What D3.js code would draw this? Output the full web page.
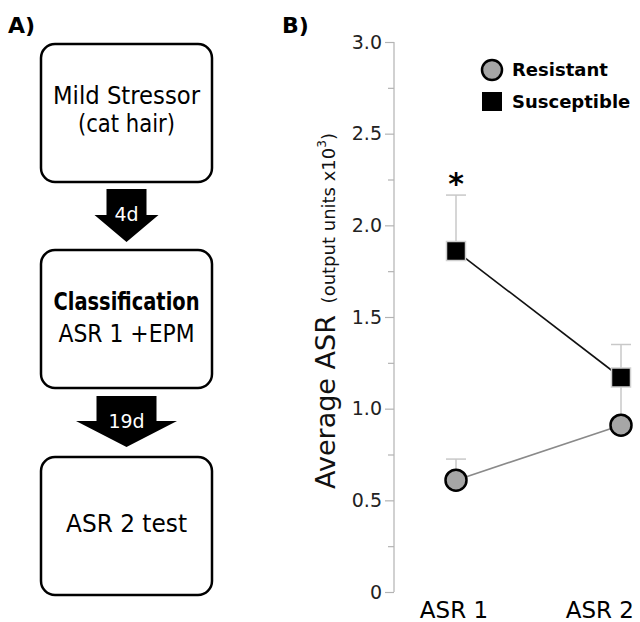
<!DOCTYPE html>
<html>
<head>
<meta charset="utf-8">
<script src="https://cdn.jsdelivr.net/npm/d3@7"></script>
<style>
  body { margin: 0; background: #fff; }
  svg { display: block; font-family: "DejaVu Sans", Verdana, sans-serif; }
</style>
</head>
<body>
<div id="chart"></div>
<script>
// panel A - flow steps
var steps = [
  {lines: ["Mild Stressor", "(cat hair)"], bold: [false, false], widths: [147, 97]},
  {lines: ["Classification", "ASR 1 +EPM"], bold: [true, false], widths: [146, 136]},
  {lines: ["ASR 2 test"], bold: [false], widths: [121]}
];
var gaps = ["4d", "19d"];

// panel B - data
var categories = ["ASR 1", "ASR 2"];
var resistant = [0.61, 0.91];
var resistantErr = [0.115, 0.22];
var susceptible = [1.86, 1.17];
var susceptibleErr = [0.305, 0.18];
var yTicks = [0, 0.5, 1.0, 1.5, 2.0, 2.5, 3.0];
var yMinorTicks = [0.25, 0.75, 1.25, 1.75, 2.25, 2.75];
var seriesNames = ["Resistant", "Susceptible"];

var W = 640, H = 622;
var svg = d3.select("#chart").append("svg")
    .attr("width", W)
    .attr("height", H);

// ****************** panel A ***************************
svg.append("text")
    .attr("x", 8).attr("y", 33)
    .style("font-weight", "bold").style("font-size", "22px")
    .text("A)");

var boxX = 41, boxW = 171, boxH = 138;
var boxTops = [44, 250, 457];
var baselines = [[104, 132], [310, 342], [532]];

steps.forEach(function(s, i) {
  svg.append("rect")
      .attr("x", boxX).attr("y", boxTops[i])
      .attr("width", boxW).attr("height", boxH)
      .attr("rx", 14).attr("ry", 14)
      .style("fill", "#fff").style("stroke", "#000").style("stroke-width", 2.5);
  s.lines.forEach(function(l, j) {
    svg.append("text")
        .attr("x", boxX + boxW / 2).attr("y", baselines[i][j])
        .attr("text-anchor", "middle")
        .attr("textLength", s.widths[j])
        .attr("lengthAdjust", "spacingAndGlyphs")
        .style("font-size", "24px")
        .style("font-weight", s.bold[j] ? "bold" : "normal")
        .text(l);
  });
});

// arrows between the boxes
var arrows = [
  {top: 189, shaft: 40, head: 64, neck: 215, tip: 242, base: 221},
  {top: 396, shaft: 60, head: 101, neck: 421, tip: 447, base: 428}
];
var cx = boxX + boxW / 2;
arrows.forEach(function(a, i) {
  var p = d3.path();
  p.moveTo(cx - a.shaft / 2, a.top);
  p.lineTo(cx + a.shaft / 2, a.top);
  p.lineTo(cx + a.shaft / 2, a.neck);
  p.lineTo(cx + a.head / 2, a.neck);
  p.lineTo(cx, a.tip);
  p.lineTo(cx - a.head / 2, a.neck);
  p.lineTo(cx - a.shaft / 2, a.neck);
  p.closePath();
  svg.append("path").attr("d", p.toString()).style("fill", "#000");
  svg.append("text")
      .attr("x", cx).attr("y", a.base)
      .attr("text-anchor", "middle")
      .style("fill", "#fff").style("font-size", "19px")
      .text(gaps[i]);
});

// ****************** panel B ***************************
svg.append("text")
    .attr("x", 282).attr("y", 33)
    .style("font-weight", "bold").style("font-size", "22px")
    .text("B)");

var axisX = 394;
var y = d3.scaleLinear().domain([0, 3]).range([592, 42]);
var x = d3.scalePoint().domain(categories).range([456, 621]);

var yAxis = svg.append("g")
    .attr("transform", "translate(" + axisX + ",0)")
    .call(d3.axisLeft(y).tickValues(yTicks).tickSize(9).tickPadding(3)
      .tickFormat(function(d) { return d === 0 ? "0" : d3.format(".1f")(d); }));
yAxis.select(".domain").attr("d", "M0," + y(0) + "V" + y(3));
yAxis.selectAll("path, line").style("stroke", "#b3b3b3").style("stroke-width", 1.2);
yAxis.selectAll("text")
    .style("font-size", "19px").style("fill", "#222")
    .style("font-family", "DejaVu Sans, sans-serif");

var minor = svg.append("g")
    .attr("transform", "translate(" + axisX + ",0)")
    .call(d3.axisLeft(y).tickValues(yMinorTicks).tickSize(6).tickFormat(""));
minor.select(".domain").remove();
minor.selectAll("line").style("stroke", "#b3b3b3").style("stroke-width", 1.2);

// y label
var yl = svg.append("text")
    .attr("transform", "translate(335,311) rotate(-90)")
    .attr("text-anchor", "middle")
    .style("fill", "#111");
yl.append("tspan").style("font-size", "27px").text("Average ASR");
yl.append("tspan").style("font-size", "18px").attr("dx", 6).text(" (output units x10");
yl.append("tspan").style("font-size", "12px").attr("dy", -9).text("3");
yl.append("tspan").style("font-size", "18px").attr("dy", 9).text(")");

// x labels (no axis line)
svg.selectAll("text.xlab")
    .data(categories)
  .enter().append("text")
    .attr("class", "xlab")
    .attr("y", 618)
    .attr("text-anchor", "middle")
    .style("font-size", "23px")
    .text(function(d) { return d; })
    .attr("x", function(d) {
      var w = this.getComputedTextLength();
      return Math.min(x(d), W - 4 - w / 2) - 2;
    });

// error bars (upper only)
function errBars(vals, errs) {
  var g = svg.append("g");
  vals.forEach(function(v, i) {
    var cxp = x(categories[i]);
    g.append("line")
        .attr("x1", cxp).attr("x2", cxp)
        .attr("y1", y(v)).attr("y2", y(v + errs[i]));
    g.append("line")
        .attr("x1", cxp - 10).attr("x2", cxp + 10)
        .attr("y1", y(v + errs[i])).attr("y2", y(v + errs[i]));
  });
  g.selectAll("line").style("stroke", "#c8c8c8").style("stroke-width", 1.5);
}
errBars(resistant, resistantErr);
errBars(susceptible, susceptibleErr);

var line = d3.line()
    .x(function(d, i) { return x(categories[i]); })
    .y(function(d) { return y(d); });

svg.append("path")
    .datum(resistant)
    .attr("d", line)
    .style("fill", "none").style("stroke", "#8a8a8a").style("stroke-width", 1.6);
svg.append("path")
    .datum(susceptible)
    .attr("d", line)
    .style("fill", "none").style("stroke", "#111").style("stroke-width", 1.6);

// markers
svg.selectAll("circle.res")
    .data(resistant)
  .enter().append("circle")
    .attr("class", "res")
    .attr("cx", function(d, i) { return x(categories[i]); })
    .attr("cy", function(d) { return y(d); })
    .attr("r", 10.5)
    .style("fill", "#a6a6a6").style("stroke", "#000").style("stroke-width", 2.5);

svg.selectAll("rect.sus")
    .data(susceptible)
  .enter().append("rect")
    .attr("class", "sus")
    .attr("x", function(d, i) { return x(categories[i]) - 9.5; })
    .attr("y", function(d) { return y(d) - 9.5; })
    .attr("width", 19).attr("height", 19)
    .style("fill", "#000").style("stroke", "#d0d0d0").style("stroke-width", 1.5);

// significance
svg.append("text")
    .attr("x", x(categories[0])).attr("y", 194)
    .attr("text-anchor", "middle")
    .style("font-size", "30px").style("font-weight", "bold")
    .text("*");

// legend
var leg = svg.append("g");
leg.append("circle")
    .attr("cx", 492).attr("cy", 70).attr("r", 10)
    .style("fill", "#a6a6a6").style("stroke", "#000").style("stroke-width", 2.5);
leg.append("rect")
    .attr("x", 482).attr("y", 92).attr("width", 20).attr("height", 19)
    .style("fill", "#000");
leg.selectAll("text")
    .data(seriesNames)
  .enter().append("text")
    .attr("x", 512)
    .attr("y", function(d, i) { return 76 + i * 32; })
    .style("font-size", "18px").style("font-weight", "bold")
    .text(function(d) { return d; });
</script>
</body>
</html>
